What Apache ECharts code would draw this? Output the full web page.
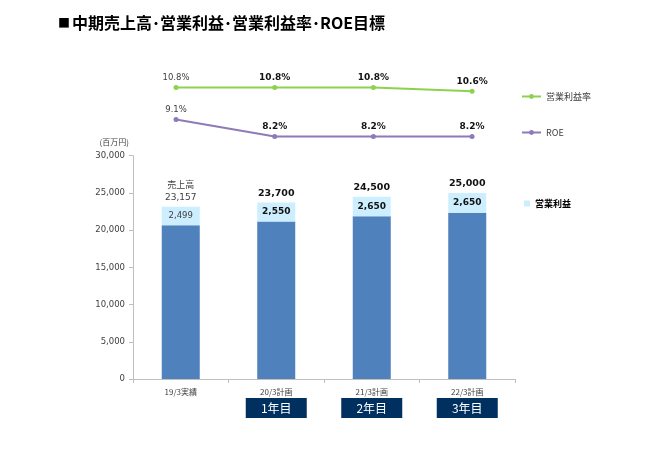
<!DOCTYPE html>
<html>
<head>
    <meta charset="utf-8">
    <title>中期売上高・営業利益・営業利益率・ROE目標</title>
    <script src="https://cdn.jsdelivr.net/npm/echarts@6/dist/echarts.min.js"></script>
    <style>
        html, body { margin: 0; padding: 0; background: #fff; }
        #main { width: 649px; height: 452px; }
    </style>
</head>
<body>
    <div id="main"></div>
    <script type="text/javascript">
        // 値は図から読み取り
        var categories = ['19/3実績', '20/3計画', '21/3計画', '22/3計画'];
        var yearTags = ['', '1年目', '2年目', '3年目'];
        var sales = [23157, 23700, 24500, 25000];      // 売上高（百万円）
        var profit = [2499, 2550, 2650, 2650];         // 営業利益
        var marginRate = [10.8, 10.8, 10.8, 10.6];     // 営業利益率 %
        var roe = [9.1, 8.2, 8.2, 8.2];                // ROE %
        var yTicks = { min: 0, max: 30000, interval: 5000 };

        var NUM_FONT = 'DejaVu Sans, Noto Sans CJK JP';
        var JP_FONT = 'Noto Sans CJK JP';

        var fmt = function (v) { return echarts.format.addCommas(v); };

        // 実績（先頭）は細字グレー、計画は太字
        function labelStyle(i, size) {
            return i === 0
                ? { fontWeight: 'normal', color: '#404040', fontSize: size - 0.5 }
                : { fontWeight: 'bold', color: '#111', fontSize: size };
        }

        var baseData = sales.map(function (s, i) { return s - profit[i]; });
        var profitData = profit.map(function (p, i) {
            return { value: p, label: labelStyle(i, 9) };
        });
        var totalData = sales.map(function (s, i) {
            return { value: s, label: labelStyle(i, 9.5) };
        });
        function lineData(arr) {
            return arr.map(function (v, i) {
                return { value: v, label: labelStyle(i, 9) };
            });
        }

        var legendText = { fontFamily: JP_FONT, fontSize: 9, color: '#404040' };

        var myChart = echarts.init(document.getElementById('main'));
        var option = {
            backgroundColor: '#fff',
            animation: false,
            title: {
                text: '{sq|■}中期売上高･営業利益･営業利益率･ROE目標',
                left: 53,
                top: 10,
                textStyle: {
                    fontFamily: JP_FONT, fontSize: 16, fontWeight: 'bold', color: '#000',
                    rich: { sq: { fontFamily: JP_FONT, fontSize: 12, fontWeight: 'bold', color: '#000', padding: [0, 2, 0, 0] } }
                }
            },
            legend: [{
                data: ['営業利益率'],
                left: 516,
                top: 87,
                itemWidth: 19,
                itemHeight: 6,
                itemGap: 3,
                textStyle: legendText
            }, {
                data: ['ROE'],
                left: 516,
                top: 123,
                itemWidth: 19,
                itemHeight: 6,
                itemGap: 3,
                textStyle: legendText
            }, {
                data: [{ name: '営業利益', icon: 'rect' }],
                left: 519,
                top: 194,
                itemWidth: 6,
                itemHeight: 6,
                itemGap: 4,
                textStyle: { fontFamily: JP_FONT, fontSize: 9, fontWeight: 'bold', color: '#000' }
            }],
            grid: [
                { left: 133, top: 155.7, width: 382, height: 223.3 },
                { left: 126.7, top: 80, width: 394.7, height: 64 }
            ],
            xAxis: [{
                type: 'category',
                gridIndex: 0,
                data: categories,
                axisLine: { lineStyle: { color: '#BFBFBF' } },
                axisTick: { show: true, length: 4, lineStyle: { color: '#BFBFBF' } },
                axisLabel: {
                    margin: 6,
                    interval: 0,
                    formatter: function (v, i) {
                        return yearTags[i] ? '{a|' + v + '}\n{b|' + yearTags[i] + '}' : '{a|' + v + '}';
                    },
                    rich: {
                        a: { fontFamily: JP_FONT, fontSize: 8, color: '#404040', lineHeight: 13 },
                        b: {
                            fontFamily: JP_FONT, fontSize: 12, color: '#fff',
                            backgroundColor: '#00305F', width: 61, height: 20,
                            lineHeight: 20, align: 'center'
                        }
                    }
                }
            }, {
                type: 'category',
                gridIndex: 1,
                data: categories,
                show: false
            }],
            yAxis: [{
                type: 'value',
                gridIndex: 0,
                min: yTicks.min,
                max: yTicks.max,
                interval: yTicks.interval,
                name: '(百万円)',
                nameLocation: 'end',
                nameGap: 10,
                nameTextStyle: { fontFamily: JP_FONT, fontSize: 8, color: '#404040', align: 'right', padding: [0, 4, 0, 0] },
                axisLine: { show: true, lineStyle: { color: '#BFBFBF' } },
                axisTick: { show: true, length: 4, lineStyle: { color: '#BFBFBF' } },
                splitLine: { show: false },
                axisLabel: {
                    fontFamily: NUM_FONT, fontSize: 8.5, color: '#404040', margin: 8,
                    formatter: fmt
                }
            }, {
                type: 'value',
                gridIndex: 1,
                min: 7.8,
                max: 11.2,
                show: false,
                splitLine: { show: false }
            }],
            series: [{
                name: '売上高',
                type: 'bar',
                xAxisIndex: 0,
                yAxisIndex: 0,
                stack: 'sales',
                barWidth: 38,
                barGap: '-100%',
                itemStyle: { color: '#4F81BD' },
                data: baseData
            }, {
                name: '営業利益',
                type: 'bar',
                xAxisIndex: 0,
                yAxisIndex: 0,
                stack: 'sales',
                barWidth: 38,
                barGap: '-100%',
                itemStyle: { color: '#CCEEFF' },
                label: {
                    show: true,
                    position: 'inside',
                    fontFamily: NUM_FONT,
                    formatter: function (p) { return fmt(p.value); }
                },
                data: profitData
            }, {
                name: '売上高合計',
                type: 'bar',
                xAxisIndex: 0,
                yAxisIndex: 0,
                barWidth: 38,
                barGap: '-100%',
                z: 1,
                silent: true,
                itemStyle: { color: 'rgba(0,0,0,0)' },
                label: {
                    show: true,
                    position: 'top',
                    distance: 3,
                    fontFamily: NUM_FONT,
                    lineHeight: 12,
                    formatter: function (p) {
                        return p.dataIndex === 0 ? '売上高\n' + fmt(p.value) : fmt(p.value);
                    }
                },
                data: totalData
            }, {
                name: '営業利益率',
                type: 'line',
                xAxisIndex: 1,
                yAxisIndex: 1,
                symbol: 'circle',
                symbolSize: 5,
                lineStyle: { width: 2, color: '#8DD14F' },
                itemStyle: { color: '#8DD14F' },
                label: {
                    show: true,
                    position: 'top',
                    distance: 3,
                    fontFamily: NUM_FONT,
                    formatter: function (p) { return p.value.toFixed(1) + '%'; }
                },
                data: lineData(marginRate)
            }, {
                name: 'ROE',
                type: 'line',
                xAxisIndex: 1,
                yAxisIndex: 1,
                symbol: 'circle',
                symbolSize: 5,
                lineStyle: { width: 2, color: '#9079B8' },
                itemStyle: { color: '#9079B8' },
                label: {
                    show: true,
                    position: 'top',
                    distance: 3,
                    fontFamily: NUM_FONT,
                    formatter: function (p) { return p.value.toFixed(1) + '%'; }
                },
                data: lineData(roe)
            }]
        };
        myChart.setOption(option);
    </script>
</body>
</html>
